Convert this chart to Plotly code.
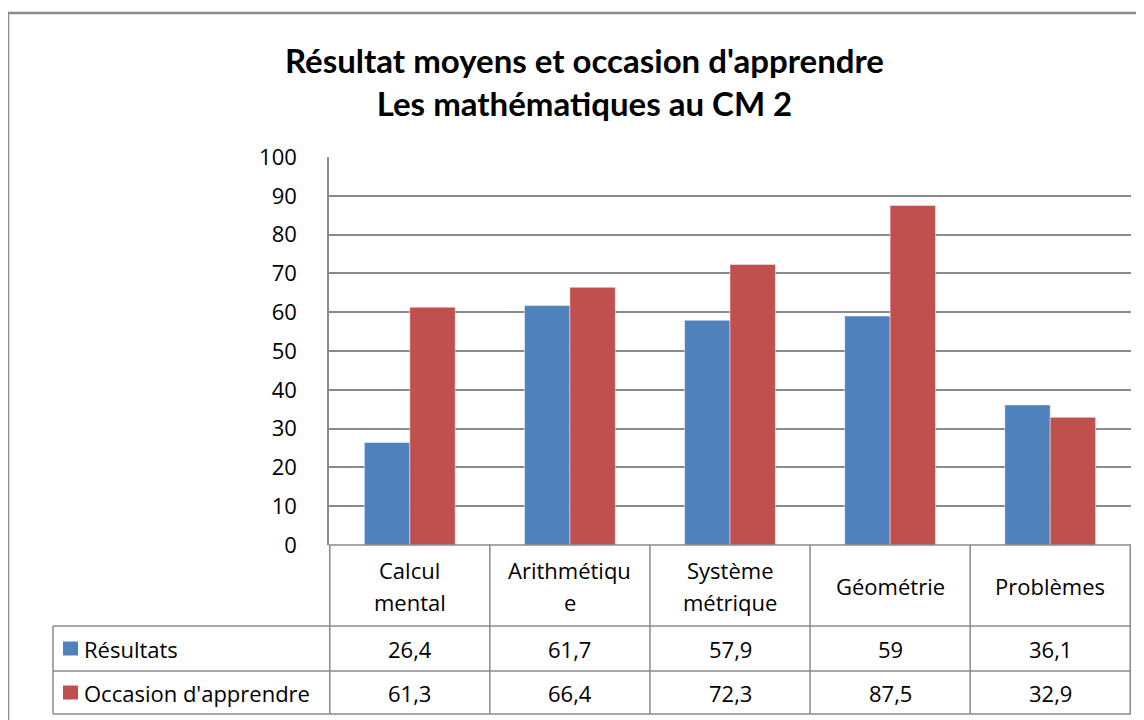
import plotly.graph_objects as go

# Data
categories = ["Calcul mental", "Arithmétique", "Système métrique", "Géométrie", "Problèmes"]
category_labels = ["Calcul<br>mental", "Arithmétiqu<br>e", "Système<br>métrique", "Géométrie", "Problèmes"]
resultats = [26.4, 61.7, 57.9, 59, 36.1]
occasion = [61.3, 66.4, 72.3, 87.5, 32.9]
series_names = ["Résultats", "Occasion d'apprendre"]
series_colors = ["#4F81BD", "#C0504D"]

FONT = "'Open Sans', Lato, sans-serif"
GRID = "#8a8a8a"

# page body has an 8px margin, so the figure is drawn 8px in
OFF = 8
W, H = 1144 - OFF, 720 - OFF
L, R, T, B = 329 - OFF, 13, 157 - OFF, 175
PW, PH = W - L - R, H - T - B


def px(x):
    # screen pixel x -> paper x
    return (x - OFF - L) / PW


def py(y):
    # screen pixel y -> paper y
    return (H - B - (y - OFF)) / PH


fig = go.Figure()
for name, vals, col in zip(series_names, [resultats, occasion], series_colors):
    fig.add_trace(go.Bar(x=categories, y=vals, name=name,
                         marker=dict(color=col, line=dict(color="rgba(255,255,255,0.45)", width=1))))

shapes = []
line = dict(color=GRID, width=1.5)

# outer frame
shapes.append(dict(type="rect", xref="paper", yref="paper", x0=px(8), x1=px(1170), y0=py(13), y1=py(740),
                   line=dict(color="#8c8c8c", width=2.5)))

# table: category row + two data rows
row_y = [545, 626, 671, 714]
shapes.append(dict(type="line", xref="paper", yref="paper", x0=0, x1=1, y0=py(row_y[0]), y1=py(row_y[0]), line=line))
for y in row_y[1:]:
    shapes.append(dict(type="line", xref="paper", yref="paper", x0=px(53), x1=1, y0=py(y), y1=py(y), line=line))
shapes.append(dict(type="line", xref="paper", yref="paper", x0=px(53), x1=px(53), y0=py(row_y[1]), y1=py(row_y[3]), line=line))
for i in range(len(categories) + 1):
    shapes.append(dict(type="line", xref="x", yref="paper", x0=i - 0.5, x1=i - 0.5,
                       y0=py(row_y[0]), y1=py(row_y[3]), line=line))

annotations = []
cat_mid = (row_y[0] + row_y[1]) / 2
for i, lab in enumerate(category_labels):
    parts = lab.split("<br>")
    for k, part in enumerate(parts):
        yk = cat_mid + (k - (len(parts) - 1) / 2) * 32
        annotations.append(dict(x=i, xref="x", y=py(yk), yref="paper", text=part,
                                showarrow=False, xanchor="center", yanchor="middle",
                                font=dict(size=22, color="#000")))

for r, (name, vals, col) in enumerate(zip(series_names, [resultats, occasion], series_colors)):
    yc = (row_y[r + 1] + row_y[r + 2]) / 2
    shapes.append(dict(type="rect", xref="paper", yref="paper", x0=px(63), x1=px(78), y0=py(yc - 7), y1=py(yc + 7),
                       fillcolor=col, line=dict(width=0)))
    annotations.append(dict(x=px(82), xref="paper", y=py(yc), yref="paper", text=name, showarrow=False,
                            xanchor="left", yanchor="middle", font=dict(size=22, color="#000")))
    for i, v in enumerate(vals):
        annotations.append(dict(x=i, xref="x", y=py(yc), yref="paper", text=f"{v:g}".replace(".", ","),
                                showarrow=False, xanchor="center", yanchor="middle",
                                font=dict(size=22, color="#000")))

annotations.append(dict(x=px(584), xref="paper", y=py(81), yref="paper", showarrow=False,
                        xanchor="center", yanchor="middle",
                        text="<b>Résultat moyens et occasion d'apprendre<br>Les mathématiques au CM 2</b>",
                        font=dict(family="Lato, sans-serif", size=33, color="#000")))

fig.update_layout(
    width=W, height=H,
    margin=dict(l=L, r=R, t=T, b=B),
    paper_bgcolor="white", plot_bgcolor="white",
    font=dict(family=FONT, size=22, color="#000"),
    showlegend=False,
    barmode="group", bargap=0.433, bargroupgap=0,
    xaxis=dict(showticklabels=False, showgrid=False, zeroline=False, showline=False, fixedrange=True),
    yaxis=dict(range=[0, 100], dtick=10, showgrid=True, gridcolor=GRID, gridwidth=1.5, zeroline=False,
               showline=True, linecolor=GRID, linewidth=1.5, ticks="", ticklabelstandoff=26,
               tickfont=dict(size=22, color="#000"), fixedrange=True),
    shapes=shapes,
    annotations=annotations,
)

fig.write_html("out.html")
